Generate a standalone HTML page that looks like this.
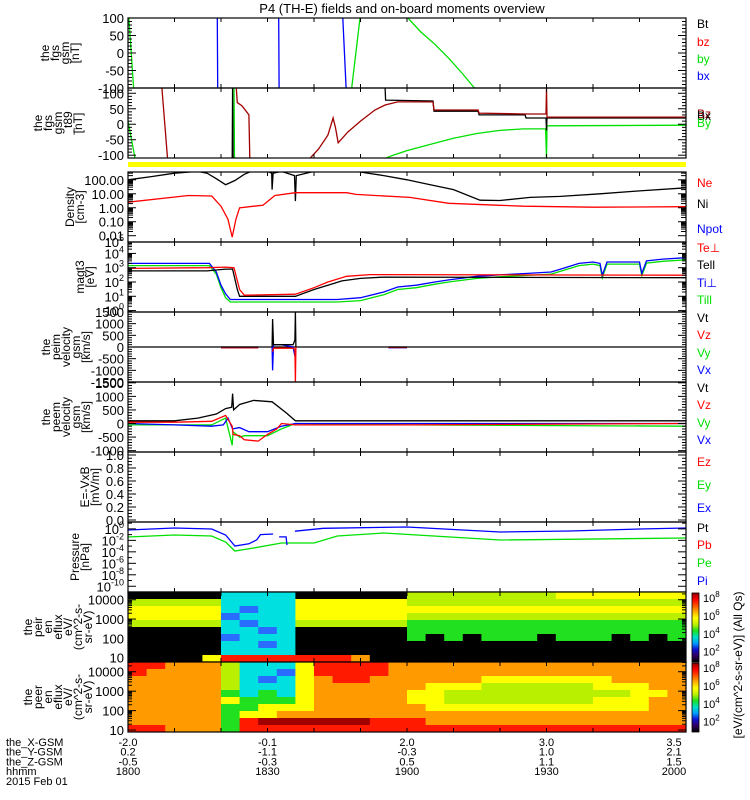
<!DOCTYPE html>
<html><head><meta charset="utf-8"><style>
html,body{margin:0;padding:0;background:#fff;}
svg{display:block;font-family:"Liberation Sans",sans-serif;}
</style></head><body>
<svg id="c" width="750" height="800" viewBox="0 0 750 800" xmlns="http://www.w3.org/2000/svg">
<text x="402" y="13" font-size="13" text-anchor="middle">P4 (TH-E) fields and on-board moments overview</text>
<g id="layer"></g>
</svg>
<script>
// ---- time axis data (minutes after 18:00) ----
const timeTicks = [0, 30, 60, 90, 120];
const xLabels = ["-2.0", "-0.1", "2.0", "3.0", "3.5"];
const yLabels = ["0.2", "-1.1", "-0.3", "1.0", "2.1"];
const zLabels = ["-0.5", "-0.3", "0.5", "1.1", "1.5"];
const hhmmLabels = ["1800", "1830", "1900", "1930", "2000"];

// ---- panel 1: fgs gsm (nT) ----
const p1_bx_t = [19.2, 19.3, null, 32.4, 32.5, null, 46.2, 46.9];
const p1_bx_v = [100, -100, null, 100, -100, null, 100, -100];
const p1_by_t = [0.2, 1.2, null, 48.1, 49.9, null, 60.2, 63, 66, 69, 72, 74.5];
const p1_by_v = [100, -100, null, -100, 100, null, 100, 60, 25, -15, -60, -100];

// ---- panel 2: fgs gsm t89 (nT) ----
const p2_bz_t = [7.3, 8.5, null, 23.3, 23.5, 24.5, 25.5, 26, 26.2, null, 39.2, 41, 43, 44.1, 44.6, 45.2, 47.3, 50, 53.1, 55.3, 58, 65.6, 65.8, 75.3, 75.5, 85.4, 89.9, 90, 90.1, 120];
const p2_bz_v = [117, -109, null, 117, 70, 60, 40, 30, -109, null, -109, -80, -35, 20, -10, -60, -25, 10, 46, 62, 72, 72, 46, 46, 36, 33, 33, 117, 23, 23];
const p2_bx_t = [22.4, 22.5, 22.6, null, 55.3, 55.4, 65.6, 65.8, 75.3, 75.5, 85.4, 85.6, 89.9, 90, 90.1, 120];
const p2_bx_v = [-109, 117, -109, null, 117, 78, 75, 42, 42, 30, 30, 20, 20, -20, 20, 20];
const p2_by_t = [0, 1.5, null, 22.8, 22.9, null, 55.5, 57, 60, 65, 70, 75, 80, 85, 89.8, 90, 90.1, 120];
const p2_by_v = [10, -109, null, 117, -109, null, -109, -100, -85, -65, -45, -30, -20, -15, -15, -109, -5, -3];

// ---- panel 3: density (cm^-3) ----
const p3_ni_t = [0, 5, 10, 15, 17, 19, 21, 23, 25, 26.5, 30, 30.9, 31, 31.2, 33, 35.8, 36, 36.2, 40, 49, 55, 60, 65, 70, 75.7, 80, 86.5, 93, 101.5, 110, 120];
const p3_ni_v = [100, 170, 300, 400, 300, 120, 45, 90, 250, 400, 400, 300, 20, 300, 400, 200, 3, 200, 400, 400, 200, 100, 45, 20, 3.5, 3.3, 5.5, 6.5, 10, 16, 27];
const p3_ne_t = [0, 13, 18, 20, 21.5, 22.4, 23.2, 24, 27, 29, 31.6, 36, 43, 47, 49, 60.6, 69, 80, 85, 100, 120];
const p3_ne_v = [2.5, 7.6, 7, 1.3, 0.15, 0.008, 0.15, 1, 1.3, 1.5, 7.6, 12, 12, 12, 9, 5.5, 2.1, 1.5, 1.3, 1.1, 1.2];

// ---- panel 4: magt3 temperatures (eV) ----
const p4_tell_t = [0, 17, 21, 22.5, 23.5, 24, 36, 40, 43, 46, 50, 55, 120];
const p4_tell_v = [600, 600, 800, 800, 30, 10, 10, 30, 60, 120, 180, 220, 200];
const p4_teperp_t = [0, 17, 21, 22.8, 24, 25, 36, 40, 43, 47, 52, 120];
const p4_teperp_v = [900, 1000, 1100, 1000, 30, 12, 14, 40, 100, 250, 330, 300];
const p4_tiperp_t = [0, 17.5, 19, 20, 21, 22, 45, 50, 55, 58, 62, 66, 69, 75, 80, 86, 91, 94, 97, 100, 101.5, 102, 103, 110, 110.5, 111.5, 115, 120];
const p4_tiperp_v = [2000, 2000, 500, 60, 15, 6, 6, 8, 20, 45, 60, 100, 140, 250, 320, 400, 500, 1000, 2000, 2500, 2000, 300, 2500, 2500, 400, 3000, 4000, 5000];
const p4_tipar_t = p4_tiperp_t;
const p4_tipar_v = [1400, 1400, 350, 40, 8, 4, 4, 5, 13, 30, 40, 70, 100, 180, 230, 290, 360, 700, 1400, 1800, 1400, 200, 1800, 1800, 280, 2100, 2800, 3500];

// ---- panel 5: peim velocity (km/s) ----
const p5_vt_t = [20, 28, null, 31, 31.1, 31.3, 35.5, 35.9, 36, 36.1, null, 56, 60];
const p5_vt_v = [0, 0, null, 0, 1200, 100, 100, 300, 1500, 0, null, 0, 0];
const p5_vz_t = [20, 28, null, 31.1, 31.3, 35.5, 35.9, 36, 36.1, null, 56, 60];
const p5_vz_v = [-30, -30, null, -200, -50, -50, -100, -1500, 0, null, -20, -20];
const p5_vx_t = [20, 28, null, 31, 31.1, 31.3, 33, 35.5, 35.9, null, 56, 60];
const p5_vx_v = [-30, -30, null, 0, -1000, 100, 100, 0, -400, null, -30, -30];

// ---- panel 6: peem velocity (km/s) ----
const p6_vt_t = [0, 10, 15, 19, 21, 22.3, 22.5, 22.7, 24, 27, 31, 34, 36, 120];
const p6_vt_v = [100, 100, 200, 350, 550, 600, 1100, 500, 700, 850, 800, 400, 100, 100];
const p6_vx_t = [0, 10, 18, 20.5, 21.5, 22.5, 24, 26, 30, 33, 36, 120];
const p6_vx_v = [0, -50, -100, -50, 200, -200, -150, -300, -300, -100, 0, 0];
const p6_vz_t = [0, 10, 18, 21, 22.4, 22.6, 24, 25, 28, 30, 32, 33, 36, 60, 120];
const p6_vz_v = [50, 50, 80, 300, -100, -400, -450, -600, -650, -400, -200, 0, -50, -50, 0];
const p6_vy_t = [0, 10, 18, 21, 22.4, 22.6, 24, 25, 30, 33, 36, 60, 120];
const p6_vy_v = [-50, -50, -50, 200, -800, -300, -500, -450, -450, -200, 0, -50, -100];

// ---- panel 8: pressure (log10 nPa) ----
const p8_pi_t = [0, 10, 18, 21, 23, 26, 27.7, 28.5, 31.2, null, 32.5, 34.0, 34.2, null, 35.9, 42, 60, 80, 95, 110, 120];
const p8_pi_e = [-0.19, 0.15, -0.02, -1.06, -2.98, -2.6, -1.9, -1.0, -0.9, null, -1.4, -1.4, -2.8, null, -0.4, 0.1, 0.33, -0.54, -0.37, -0.02, 0.15];
const p8_pe_t = [0, 10, 18, 21, 23, 27, 33, 40, 45, 55, 80, 120];
const p8_pe_e = [-1.41, -1.06, -1.24, -2.28, -3.85, -3.33, -2.46, -2.46, -1.24, -0.72, -1.94, -1.59];

// ---- spectrograms: 30 columns of 4 min, 10 energy rows (top = high energy), color level 0-9 ----
const ionSpec = [
"000003333000000555555556666666",
"555553333666666555555555555555",
"666663233666666666666666666666",
"666662333666666555555555555555",
"555553233555555444444444444444",
"000003323000000444444444444444",
"000002333000000404044404440404",
"000003323000000000000000000000",
"000003333000000000000000000000",
"000068888888700000000000000000"];
const eleSpec = [
"887775333688887777777777777777",
"877775332688887777777777777777",
"777775323678877777766666667777",
"777775333677777766655555566677",
"777774343677777665555555555667",
"777776444677777665555555566677",
"777774466677777766666666666677",
"777774667777777777777777777777",
"777774899999988877777777777777",
"887774888888888888888888888888"];
const specPalette = ["#000000","#1010c0","#2a6cff","#00e0e0","#20e020","#b8f000","#ffff00","#ff9a00","#ff1a00","#a00000"];
const cbLabels = ["8", "6", "4", "2"];

// ================= drawing =================
const NS = "http://www.w3.org/2000/svg";
const layer = document.getElementById("layer");
const X0 = 128, X1 = 686;
function xs(t){ return X0 + (t - 0) / 120 * (X1 - X0); }
function mk(tag, attrs, parent){
  const e = document.createElementNS(NS, tag);
  for (const k in attrs) e.setAttribute(k, attrs[k]);
  (parent || layer).appendChild(e);
  return e;
}
function linScale(y0, y1, lo, hi){ return v => y1 - (v - lo) / (hi - lo) * (y1 - y0); }
function logScale(y0, y1, lo, hi){ return v => y1 - (Math.log10(v) - lo) / (hi - lo) * (y1 - y0); }

function clipFor(id, y0, y1){
  let defs = document.getElementById("defs");
  if (!defs){ defs = mk("defs", {id: "defs"}); }
  const cp = mk("clipPath", {id: id}, defs);
  mk("rect", {x: X0, y: y0, width: X1 - X0, height: y1 - y0}, cp);
}
function series(ts, vs, ys, color, name, clip){
  let d = "", pen = false;
  for (let i = 0; i < ts.length; i++){
    if (ts[i] === null || vs[i] === null){ pen = false; continue; }
    d += (pen ? "L" : "M") + xs(ts[i]).toFixed(1) + " " + ys(vs[i]).toFixed(1) + " ";
    pen = true;
  }
  const p = mk("path", {d: d, fill: "none", stroke: color, "stroke-width": 1.3, "clip-path": "url(#" + clip + ")"});
  
  
  return p;
}
function box(y0, y1, name){
  const r = mk("rect", {x: X0, y: y0, width: X1 - X0, height: y1 - y0, fill: "none", stroke: "#000", "stroke-width": 1.2});
  
  
  for (let t = 10; t < 120; t += 10){
    const x = xs(t);
    mk("line", {x1: x, y1: y0, x2: x, y2: y0 + 4, stroke: "#000", "stroke-width": 1});
    mk("line", {x1: x, y1: y1, x2: x, y2: y1 - 4, stroke: "#000", "stroke-width": 1});
  }
}
function ytick(y, len){
  mk("line", {x1: X0, y1: y, x2: X0 + len, y2: y, stroke: "#000", "stroke-width": 1});
  mk("line", {x1: X1, y1: y, x2: X1 - len, y2: y, stroke: "#000", "stroke-width": 1});
}
function ylabel(y, txt, sup, name){
  const t = mk("text", {x: 124, y: y + 5, "font-size": 13, "text-anchor": "end"});
  if (sup !== undefined){
    t.textContent = txt;
    const s = mk("tspan", {dy: -6, "font-size": 9}, t);
    s.textContent = sup;
  } else t.textContent = txt;
  
  
}
function linTicks(y0, y1, lo, hi, step, minor, fmt, name){
  const ys = linScale(y0, y1, lo, hi);
  for (let v = Math.ceil(lo / minor) * minor; v <= hi + 1e-9; v += minor){
    const isMaj = Math.abs(v / step - Math.round(v / step)) < 1e-6;
    ytick(ys(v), isMaj ? 8 : 4);
    if (isMaj) ylabel(ys(v), fmt(v), undefined, name + "-tick");
  }
}
function logTicks(y0, y1, lo, hi, every, name){
  const ys = v => y1 - (v - lo) / (hi - lo) * (y1 - y0);
  for (let e = Math.floor(lo); e <= Math.ceil(hi); e++){
    for (let m = 1; m < 10; m++){
      const v = e + Math.log10(m);
      if (v < lo - 1e-6 || v > hi + 1e-6) continue;
      ytick(ys(v), m === 1 ? 8 : 4);
    }
    if (e >= lo - 1e-6 && e <= hi + 1e-6 && (e % every === 0)) ylabel(ys(e), "10", String(e), name + "-tick");
  }
}
function axisTitle(cx, cy, lines, name){
  const g = mk("g", {transform: "translate(" + cx + "," + cy + ") rotate(-90)"});
  
  
  const n = lines.length;
  lines.forEach((s, i) => {
    const t = mk("text", {x: 0, y: (i - (n - 1) / 2) * 10 + 4, "font-size": 12, "text-anchor": "middle"}, g);
    t.textContent = s;
  });
}
function legend(items, name){
  items.forEach(it => {
    const t = mk("text", {x: 697, y: it[2], "font-size": 12, fill: it[1]});
    t.textContent = it[0];
    
    
  });
}
const RED = "#ff0000", GRN = "#00e000", BLU = "#0000ff", BLK = "#000000", DRED = "#a00000";

// Panel 1
{ const y0 = 18, y1 = 88, ys = linScale(y0, y1, -100, 100); clipFor("c1", y0, y1);
  series(p1_bx_t, p1_bx_v, ys, BLU, "p1-bx-line", "c1");
  series(p1_by_t, p1_by_v, ys, GRN, "p1-by-line", "c1");
  linTicks(y0, y1, -100, 100, 50, 10, v => String(v), "p1");
  box(y0, y1, "fgs-gsm-panel");
  axisTitle(60, 53, ["the", "fgs", "gsm", "[nT]"], "p1-y-title");
  legend([["Bt", BLK, 28], ["bz", RED, 46], ["by", GRN, 63], ["bx", BLU, 80]], "p1-legend");
}
// Panel 2
{ const y0 = 88, y1 = 158, ys = linScale(y0, y1, -109, 117); clipFor("c2", y0, y1);
  series(p2_by_t, p2_by_v, ys, GRN, "p2-by-line", "c2");
  series(p2_bx_t, p2_bx_v, ys, BLK, "p2-bx-line", "c2");
  series(p2_bz_t, p2_bz_v, ys, DRED, "p2-bz-line", "c2");
  linTicks(y0, y1, -109, 117, 50, 10, v => String(v), "p2");
  box(y0, y1, "fgs-t89-panel");
  axisTitle(58, 123, ["the", "fgs", "gsm", "_t89", "[nT]"], "p2-y-title");
  legend([["Bz", DRED, 118], ["Bx", BLK, 120], ["By", GRN, 127]], "p2-legend");
}
// Yellow status bar
{ const r = mk("rect", {x: X0, y: 162, width: X1 - X0, height: 5, fill: "#ffff00"});
  
   }
// Panel 3 density
{ const y0 = 172, y1 = 242, lo = -2.45, hi = 2.56, ys = logScale(y0, y1, lo, hi); clipFor("c3", y0, y1);
  series(p3_ni_t, p3_ni_v, ys, BLK, "ni-line", "c3");
  series(p3_ne_t, p3_ne_v, ys, RED, "ne-line", "c3");
  const sy = v => y1 - (v - lo) / (hi - lo) * (y1 - y0);
  for (let e = -2; e <= 2; e++){ for (let m = 1; m < 10; m++){ const v = e + Math.log10(m); if (v <= hi) ytick(sy(v), m === 1 ? 8 : 5); } }
  ["0.01", "0.10", "1.00", "10.00", "100.00"].forEach((s, i) => ylabel(sy(i - 2), s, undefined, "p3-tick"));
  box(y0, y1, "density-panel");
  axisTitle(75, 207, ["Density", "[cm-3]"], "p3-y-title");
  legend([["Ne", RED, 187], ["Ni", BLK, 208], ["Npot", BLU, 233]], "p3-legend");
}
// Panel 4 temperature
{ const y0 = 242, y1 = 312, lo = -0.1, hi = 4.8, ys = logScale(y0, y1, lo, hi); clipFor("c4", y0, y1);
  series(p4_tipar_t, p4_tipar_v, ys, GRN, "tipar-line", "c4");
  series(p4_tiperp_t, p4_tiperp_v, ys, BLU, "tiperp-line", "c4");
  series(p4_tell_t, p4_tell_v, ys, BLK, "tepar-line", "c4");
  series(p4_teperp_t, p4_teperp_v, ys, RED, "teperp-line", "c4");
  logTicks(y0, y1, lo, hi, 1, "p4");
  ylabel(y0, "10", "5", "p4-tick");
  box(y0, y1, "magt3-panel");
  axisTitle(85, 277, ["magt3", "[eV]"], "p4-y-title");
  legend([["Te⊥", RED, 252], ["Tell", BLK, 269], ["Ti⊥", BLU, 287], ["Till", GRN, 304]], "p4-legend");
}
// Panel 5 peim velocity
{ const y0 = 312, y1 = 382, ys = linScale(y0, y1, -1500, 1500); clipFor("c5", y0, y1);
  mk("line", {x1: X0, y1: ys(0), x2: X1, y2: ys(0), stroke: "#000", "stroke-width": 1.2});
  series(p5_vx_t, p5_vx_v, ys, BLU, "p5-vx-line", "c5");
  series(p5_vz_t, p5_vz_v, ys, RED, "p5-vz-line", "c5");
  series(p5_vt_t, p5_vt_v, ys, BLK, "p5-vt-line", "c5");
  linTicks(y0, y1, -1500, 1500, 500, 100, v => String(v), "p5");
  box(y0, y1, "peim-velocity-panel");
  axisTitle(66, 347, ["the", "peim", "velocity", "gsm", "[km/s]"], "p5-y-title");
  legend([["Vt", BLK, 322], ["Vz", RED, 339], ["Vy", GRN, 357], ["Vx", BLU, 374]], "p5-legend");
}
// Panel 6 peem velocity
{ const y0 = 382, y1 = 452, ys = linScale(y0, y1, -1050, 1530); clipFor("c6", y0, y1);
  series(p6_vy_t, p6_vy_v, ys, GRN, "p6-vy-line", "c6");
  series(p6_vx_t, p6_vx_v, ys, BLU, "p6-vx-line", "c6");
  series(p6_vz_t, p6_vz_v, ys, RED, "p6-vz-line", "c6");
  series(p6_vt_t, p6_vt_v, ys, BLK, "p6-vt-line", "c6");
  linTicks(y0, y1, -1050, 1530, 500, 100, v => String(v), "p6");
  box(y0, y1, "peem-velocity-panel");
  axisTitle(66, 417, ["the", "peem", "velocity", "gsm", "[km/s]"], "p6-y-title");
  legend([["Vt", BLK, 392], ["Vz", RED, 409], ["Vy", GRN, 427], ["Vx", BLU, 444]], "p6-legend");
}
// Panel 7 E field (empty)
{ const y0 = 452, y1 = 522;
  linTicks(y0 + 3, y1 - 2, 0, 1, 0.2, 0.05, v => v.toFixed(1), "p7");
  box(y0, y1, "efield-panel");
  axisTitle(90, 487, ["E=-VxB", "[mV/m]"], "p7-y-title");
  legend([["Ez", RED, 466], ["Ey", GRN, 489], ["Ex", BLU, 512]], "p7-legend");
}
// Panel 8 pressure
{ const y0 = 522, y1 = 592, lo = -11, hi = 1.2, ys = linScale(y0, y1, lo, hi); clipFor("c8", y0, y1);
  series(p8_pe_t, p8_pe_e, ys, GRN, "pe-line", "c8");
  series(p8_pi_t, p8_pi_e, ys, BLU, "pi-line", "c8");
  for (let e = -10; e <= 1; e++){ ytick(ys(e), e % 2 === 0 ? 8 : 4); }
  for (let e = 0; e >= -10; e -= 2) ylabel(ys(e), "10", String(e), "p8-tick");
  box(y0, y1, "pressure-panel");
  axisTitle(80, 557, ["Pressure", "[nPa]"], "p8-y-title");
  legend([["Pt", BLK, 532], ["Pb", RED, 549], ["Pe", GRN, 567], ["Pi", BLU, 585]], "p8-legend");
}
// Spectrograms
function spectro(mat, y0, y1, lo, hi, name){
  const cols = mat[0].length, rows = mat.length;
  const cw = (X1 - X0) / cols, rh = (y1 - y0) / rows;
  for (let r = 0; r < rows; r++){
    for (let c = 0; c < cols; c++){
      const lvl = +mat[r][c];
      const cell = mk("rect", {x: (xs(c * 4)).toFixed(2), y: (y0 + r * rh).toFixed(2), width: (cw + 0.4).toFixed(2), height: (rh + 0.4).toFixed(2), fill: specPalette[lvl]});
      
      
    }
  }
  const sy = v => y1 - (v - lo) / (hi - lo) * (y1 - y0);
  for (let e = 1; e <= 4; e++){
    for (let m = 1; m < 10; m++){ const v = e + Math.log10(m); if (v <= hi) ytick(sy(v), m === 1 ? 8 : 4); }
    ylabel(sy(e), String(Math.pow(10, e)), undefined, name + "-tick");
  }
  box(y0, y1, name + "-panel");
}
spectro(ionSpec, 592, 662, 0.78, 4.4, "ion-spectrogram");
axisTitle(58, 627, ["the", "peir", "en", "eflux", "eV/", "(cm^2-s-", "sr-eV)"], "ion-spec-y-title");
spectro(eleSpec, 662, 732, 0.9, 4.5, "electron-spectrogram");
axisTitle(58, 697, ["the", "peer", "en", "eflux", "eV/", "(cm^2-s-", "sr-eV)"], "electron-spec-y-title");

// Colorbars
function colorbar(y0, y1, id){
  const defs = document.getElementById("defs");
  const lg = mk("linearGradient", {id: id, x1: 0, y1: 1, x2: 0, y2: 0}, defs);
  ["#000000","#300060","#1010d0","#00a0ff","#00e0c0","#20e020","#c0f000","#ffff00","#ffb000","#ff5000","#ff0000","#900000"].forEach((c, i, a) => {
    mk("stop", {offset: (i / (a.length - 1)).toFixed(3), "stop-color": c}, lg);
  });
  const r = mk("rect", {x: 692, y: y0, width: 7, height: y1 - y0, fill: "url(#" + id + ")", stroke: "#000", "stroke-width": 0.8});
  
  
  cbLabels.forEach((s, i) => {
    const y = y0 + 5 + i * (y1 - y0 - 10) / 3.3;
    const t = mk("text", {x: 703, y: y + 4, "font-size": 11});
    t.textContent = "10";
    const sp = mk("tspan", {dy: -5, "font-size": 8}, t);
    sp.textContent = s;
    
    
  });
}
colorbar(593, 662, "ion-colorbar");
colorbar(663, 732, "electron-colorbar");
{ const t = mk("text", {x: 0, y: 0, "font-size": 12, "text-anchor": "middle", transform: "translate(742,665) rotate(-90)"});
  t.textContent = "[eV/(cm^2-s-sr-eV)] (All Qs)";
  
   }

// Bottom time labels
const rowsTxt = [["the_X-GSM", xLabels], ["the_Y-GSM", yLabels], ["the_Z-GSM", zLabels], ["hhmm", hhmmLabels]];
rowsTxt.forEach((row, ri) => {
  const y = 746 + ri * 9.7;
  const l = mk("text", {x: 6, y: y, "font-size": 11});
  l.textContent = row[0];
  
  
  timeTicks.forEach((tt, i) => {
    const t = mk("text", {x: xs(tt) + (i === 4 ? -12 : 0), y: y, "font-size": 11, "text-anchor": "middle"});
    t.textContent = row[1][i];
    
    
  });
});
{ const d = mk("text", {x: 6, y: 785, "font-size": 11});
  d.textContent = "2015 Feb 01";
  
   }
</script>
</body></html>
